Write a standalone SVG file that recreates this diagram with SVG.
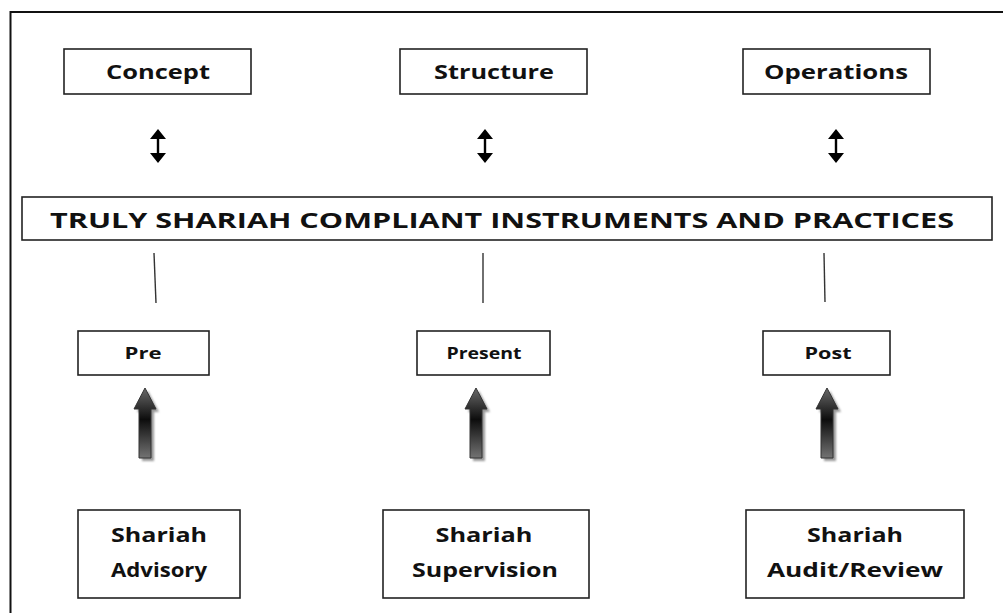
<svg xmlns="http://www.w3.org/2000/svg" width="1003" height="613" viewBox="0 0 1003 613">
<style>
.box{fill:#fff;stroke:#222;stroke-width:1.6}
.t{font-family:"Open Sans","Liberation Sans",sans-serif;font-weight:bold;fill:#111;text-anchor:middle;dominant-baseline:central}
.big{font-size:22px}
.mid{font-size:19px}
.sm{font-size:16px}
.bot{font-size:20px}
.vl{stroke:#333;stroke-width:1.4}
</style>
<defs>
<linearGradient id="ag" x1="0" y1="0" x2="0" y2="1">
<stop offset="0" stop-color="#6a6a6a"/>
<stop offset="0.45" stop-color="#0d0d0d"/>
<stop offset="1" stop-color="#737373"/>
</linearGradient>
<filter id="sh" x="-50%" y="-20%" width="200%" height="140%">
<feGaussianBlur stdDeviation="1.2"/>
</filter>
<path id="thick" d="M0,0 L11,21 L6,21 L6,70 L-6,70 L-6,21 L-11,21 Z"/>
<path id="dbl" d="M0,-17 L8,-7 L1.2,-7 L1.2,7 L8,7 L0,17 L-8,7 L-1.2,7 L-1.2,-7 L-8,-7 Z"/>
</defs>
<rect width="1003" height="613" fill="#fff"/>
<rect x="10.5" y="12" width="1000" height="610" fill="none" stroke="#111" stroke-width="2"/>

<g id="concept"><rect class="box" x="64" y="49" width="187" height="45"/><text class="t mid" x="158" y="72" textLength="104" lengthAdjust="spacingAndGlyphs">Concept</text></g>
<g id="structure"><rect class="box" x="400" y="49" width="187" height="45"/><text class="t mid" x="494" y="72" textLength="120" lengthAdjust="spacingAndGlyphs">Structure</text></g>
<g id="operations"><rect class="box" x="743" y="49" width="187" height="45"/><text class="t mid" x="836" y="72" textLength="144" lengthAdjust="spacingAndGlyphs">Operations</text></g>

<g id="title"><rect class="box" x="22" y="197" width="970" height="43"/><text class="t big" x="502" y="219" textLength="904" lengthAdjust="spacingAndGlyphs">TRULY SHARIAH COMPLIANT INSTRUMENTS AND PRACTICES</text></g>

<g id="pre"><rect class="box" x="78" y="331" width="131" height="44"/><text class="t sm" x="143" y="353" textLength="37" lengthAdjust="spacingAndGlyphs">Pre</text></g>
<g id="present"><rect class="box" x="417" y="331" width="133" height="44"/><text class="t sm" x="484" y="353" textLength="75" lengthAdjust="spacingAndGlyphs">Present</text></g>
<g id="post"><rect class="box" x="763" y="331" width="127" height="44"/><text class="t sm" x="828" y="353" textLength="47" lengthAdjust="spacingAndGlyphs">Post</text></g>

<g id="advisory"><rect class="box" x="78" y="510" width="162" height="88"/><text class="t bot" x="159" y="534" textLength="96" lengthAdjust="spacingAndGlyphs">Shariah</text><text class="t bot" x="159" y="569" textLength="96" lengthAdjust="spacingAndGlyphs">Advisory</text></g>
<g id="supervision"><rect class="box" x="383" y="510" width="206" height="88"/><text class="t bot" x="484" y="534" textLength="97" lengthAdjust="spacingAndGlyphs">Shariah</text><text class="t bot" x="485" y="569" textLength="146" lengthAdjust="spacingAndGlyphs">Supervision</text></g>
<g id="audit"><rect class="box" x="746" y="510" width="218" height="88"/><text class="t bot" x="855" y="534" textLength="96" lengthAdjust="spacingAndGlyphs">Shariah</text><text class="t bot" x="855" y="569" textLength="176" lengthAdjust="spacingAndGlyphs">Audit/Review</text></g>

<g id="connectors">
<use href="#dbl" x="158" y="146" fill="#000"/>
<use href="#dbl" x="485" y="146" fill="#000"/>
<use href="#dbl" x="836" y="146" fill="#000"/>
<line class="vl" x1="154" y1="253" x2="156" y2="303"/>
<line class="vl" x1="483" y1="253" x2="483" y2="303"/>
<line class="vl" x1="824" y1="253" x2="825" y2="302"/>
<use href="#thick" x="148" y="391" fill="#999" filter="url(#sh)"/>
<use href="#thick" x="145" y="388" fill="url(#ag)" stroke="#333" stroke-width="1"/>
<use href="#thick" x="479" y="391" fill="#999" filter="url(#sh)"/>
<use href="#thick" x="476" y="388" fill="url(#ag)" stroke="#333" stroke-width="1"/>
<use href="#thick" x="830" y="391" fill="#999" filter="url(#sh)"/>
<use href="#thick" x="827" y="388" fill="url(#ag)" stroke="#333" stroke-width="1"/>
</g>
</svg>
